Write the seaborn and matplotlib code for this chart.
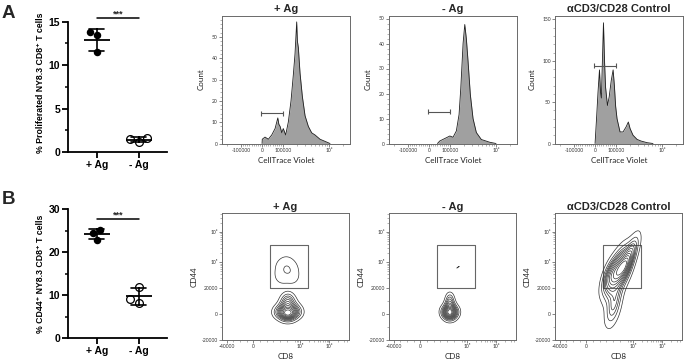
import numpy as np
import pandas as pd
import matplotlib
matplotlib.use('Agg')
import matplotlib.pyplot as plt
import seaborn as sns

sns.set_theme(style='ticks')
plt.rcParams['font.family'] = ['Liberation Sans', 'DejaVu Sans']
FLOW_FONT = ['Lato', 'DejaVu Sans']

# ---------------- data: dot plots ----------------
groups = ['+ Ag', '- Ag']
prolif_plus = [13.85, 13.46, 11.46]
prolif_minus = [1.15, 1.61, 1.54]
cd44_plus = [25.3, 24.4, 22.9]
cd44_minus = [12.0, 8.1, 9.1]
sig_label = '***'
sig_y = [15.4, 27.7]

# ---------------- data: CellTrace Violet histograms ----------------
hist_titles = ['+ Ag', '- Ag', 'αCD3/CD28 Control']
ctv_plus = [0, 1000, 14000, 30000, 46000, 62000, 75000, 80000, 86000, 94000, 101000,
            114000, 130000, 149000, 167000, 182000, 198000, 205000, 215000, 234000,
            263000, 301000, 355000, 420000, 496000, 637000, 819000, 1050000]
count_plus = [0, 2, 3, 2, 4, 7, 12, 9, 8, 5, 7, 4, 10, 20, 32, 42, 57, 48, 45, 33,
              22, 13, 8, 5, 4, 2, 1, 0]
ctv_minus = [40000, 51000, 75000, 99000, 116000, 137000, 157000, 171000, 192000,
             209000, 226000, 246000, 276000, 316000, 373000, 479000, 730000, 1000000]
count_minus = [0, 1, 2, 3, 2.5, 5, 11.6, 22, 40, 47.6, 42, 33, 19.6, 10, 4.4, 1.6,
               0.5, 0]
ctv_ctrl = [0, 7000, 14000, 21000, 26000, 30000, 35000, 40000, 45000, 50000, 59000,
            67000, 77000, 86000, 92000, 98000, 105000, 122000, 142000, 165000,
            185000, 202000, 234000, 286000, 349000, 472000, 637000]
count_ctrl = [0, 30, 62, 89, 62, 55, 100, 146, 100, 68, 46, 56, 76, 89, 70, 45, 30,
              14, 14, 20, 26, 18, 10, 5, 3, 1, 0]
hist_gate_ctv = [-3000, 100000]
hist_gate_height = [14.2, 12.8, 94]
hist_ymax = [60, 51.2, 154.8]
hist_yticks = [[0, 10, 20, 30, 40, 50], [0, 10, 20, 30, 40, 50], [0, 50, 100, 150]]

# ---------------- data: CD8 vs CD44 contour plots ----------------
plus_cd8 = [51900, 51900, 45900, 57800, 51900, 51900, 40000, 72700, 45900, 57800,
            45900, 57800, 35600, 91200, 48900, 56300, 43000, 67300, 51900, 47400,
            56300, 51900]
plus_cd44 = [0, 0, 0, 0, 1500, -1500, 800, 800, 2300, 2300,
             -1500, -1500, 1500, 1500, 5400, 5400, 4600, 4600, 8500, 10000,
             10000, 13100]
plus_gate_cd8 = [43000, 57800, 50400, 50400, 44400, 56300]
plus_gate_cd44 = [35900, 35900, 83300, 48800, 66300, 61300]
minus_cd8 = [44400, 44400, 38500, 50400, 44400, 44400, 34100, 54800, 40000, 48900,
             40000, 48900, 41500, 47400, 44400, 44400]
minus_cd44 = [800, 800, 800, 800, 2300, -800, 1500, 1500, 3100, 3100,
              -800, -800, 6200, 6200, 9200, 12300]
minus_gate_cd8 = [55600, 57800, 56700]
minus_gate_cd44 = [65700, 71000, 69400]
ctrl_cd8 = [56300, 59300, 53300, 67300, 50400, 78400, 56300, 47400, 91200, 35600,
            32600, 38500, 41500, 44400, 61400, 51900, 44400, 106700, 38500, 41500,
            38500, 43000, 45900, 35600, 31100, 53300]
ctrl_cd44 = [61300, 77300, 48800, 90100, 41800, 142900, 113500, 66300, 226000, 35900,
             27200, 48800, 24600, 35900, 41800, 142900, 90100, 307000, 16900, 9200,
             3800, 0, 13800, 21500, 35900, 77300]
gate_cd8 = [25500, 190000]
gate_cd44 = [20000, 367000]

# ---------------- layout helpers ----------------
W, H = 685, 363
fig = plt.figure(figsize=(W / 100, H / 100), dpi=100)


def rect(l, t, w, h):
    return [l / W, 1 - (t + h) / H, w / W, h / H]


def dot_panel(ax, plus, minus, ymax, majors, minors, ylabel, sig, ylab_y):
    df = pd.DataFrame({'group': [groups[0]] * len(plus) + [groups[1]] * len(minus),
                       'value': plus + minus})
    sns.swarmplot(data=df[df.group == groups[0]], x='group', y='value', order=groups,
                  color='black', size=5.4, ax=ax, zorder=3)
    sns.swarmplot(data=df[df.group == groups[1]], x='group', y='value', order=groups,
                  color='white', edgecolor='black', linewidth=0.9, size=5.6, ax=ax,
                  zorder=3)
    sns.pointplot(data=df, x='group', y='value', order=groups, estimator='mean',
                  errorbar='sd', color='black', markers='_', markersize=19,
                  markeredgewidth=1.3, linestyle='none', capsize=0.36,
                  err_kws={'linewidth': 1.2}, ax=ax, zorder=5)
    ax.set_xlim(-0.69, 1.68)
    ax.set_ylim(0, ymax)
    ax.set_yticks(majors)
    ax.set_yticks(minors, minor=True)
    sns.despine(ax=ax)
    for s in ['left', 'bottom']:
        ax.spines[s].set_linewidth(1.3)
        ax.spines[s].set_color('black')
    ax.tick_params(axis='both', which='major', length=4, width=1.3, color='black',
                   labelsize=7.5, pad=1.5, labelcolor='black')
    ax.tick_params(axis='y', which='minor', length=2.5, width=1.1, color='black')
    ax.set_xlabel('')
    ax.set_ylabel(ylabel, fontsize=6.3, fontweight='bold', color='black')
    ax.yaxis.set_label_coords(-0.232, ylab_y)
    for lab in ax.get_xticklabels() + ax.get_yticklabels():
        lab.set_fontweight('bold')
    ax.plot([0, 1], [sig, sig], color='black', lw=1.1, clip_on=False)
    ax.text(0.5, sig, sig_label, ha='center', va='bottom', fontsize=6.5,
            fontweight='bold', clip_on=False)


def flow_style(ax):
    for s in ax.spines.values():
        s.set_visible(True)
        s.set_color('#6a6a6a')
        s.set_linewidth(0.7)
    ax.tick_params(which='major', length=2, width=0.5, color='#555', labelsize=3.6,
                   labelcolor='#333', pad=1)
    ax.tick_params(which='minor', length=1.2, width=0.4, color='#777')
    for lab in ax.get_xticklabels() + ax.get_yticklabels():
        lab.set_fontfamily(FLOW_FONT)


def hist_panel(ax, x, c, ymax, yt, gate_h, title):
    ax.set_xscale('symlog', linthresh=1e5, linscale=0.411)
    ax.fill_between(x, c, color='#a0a0a0', linewidth=0)
    sns.lineplot(x=x, y=c, ax=ax, color='#1e1e1e', linewidth=0.6, estimator=None,
                 sort=False)
    ax.plot(hist_gate_ctv, [gate_h, gate_h], color='#555', lw=0.8)
    ax.vlines(hist_gate_ctv, gate_h - ymax * 0.02, gate_h + ymax * 0.02,
              color='#555', lw=0.8)
    ax.set_xlim(-2.6e5, 2.86e6)
    ax.set_ylim(0, ymax)
    ax.set_xticks([-1e5, 0, 1e5, 1e6], labels=['-100000', '0', '100000', '10⁶'])
    xminor = [v for v in np.arange(-9e4, 1e5, 1e4) if v != 0]
    xminor += [-2e5] + list(np.arange(2e5, 1e6, 1e5)) + [2e6]
    ax.set_xticks(xminor, minor=True)
    ax.set_yticks(yt, labels=[str(v) for v in yt])
    step = yt[1] - yt[0]
    ax.set_yticks([v for v in np.arange(0, ymax, step / 5) if v % step != 0],
                  minor=True)
    flow_style(ax)
    ax.set_xlabel('CellTrace Violet', fontsize=5.8, family=FLOW_FONT, color='#222',
                  labelpad=3)
    ax.set_ylabel('Count', fontsize=5.8, family=FLOW_FONT, color='#222', labelpad=5)
    ax.set_title(title, fontsize=8, fontweight='bold', pad=2.5)


def contour_panel(ax, cd8, cd44, g8, g44, gate_levels, bw, gbw, title):
    ax.set_xscale('symlog', linthresh=6e4, linscale=1.215)
    ax.set_yscale('symlog', linthresh=2.6e4, linscale=1.014)
    xl, yl = (-47000, 4.6e6), (-20000, 4.19e6)
    ax.set_xlim(*xl)
    ax.set_ylim(*yl)
    tx = ax.xaxis.get_transform()
    ty = ax.yaxis.get_transform()

    def T(tr, v):
        return tr.transform(np.asarray(v, float).reshape(-1, 1)).ravel()

    ov = ax.inset_axes([0, 0, 1, 1])
    ov.patch.set_alpha(0)
    sns.kdeplot(x=T(tx, cd8), y=T(ty, cd44), ax=ov, levels=12, thresh=0.05,
                color='#333', linewidths=0.5, bw_adjust=bw)
    if g8:
        sns.kdeplot(x=T(tx, g8), y=T(ty, g44), ax=ov, levels=gate_levels,
                    color='#333', linewidths=0.5, bw_adjust=gbw)
    ov.set_xlim(*T(tx, xl))
    ov.set_ylim(*T(ty, yl))
    ov.set_xticks([])
    ov.set_yticks([])
    ov.set_xlabel('')
    ov.set_ylabel('')
    ov.set_axis_off()
    gx = [gate_cd8[0], gate_cd8[1], gate_cd8[1], gate_cd8[0], gate_cd8[0]]
    gy = [gate_cd44[0], gate_cd44[0], gate_cd44[1], gate_cd44[1], gate_cd44[0]]
    ax.plot(gx, gy, color='#666', lw=0.8)
    ax.set_xticks([-4e4, 0, 1e5, 1e6], labels=['-40000', '0', '10⁵', '10⁶'])
    ax.set_xticks([v for v in np.arange(-3e4, 6e4, 1e4) if v != 0]
                  + [7e4, 8e4, 9e4] + list(np.arange(2e5, 1e6, 1e5))
                  + [2e6, 3e6, 4e6], minor=True)
    ax.set_yticks([-2e4, 0, 2e4, 1e5, 1e6],
                  labels=['-20000', '0', '20000', '10⁵', '10⁶'])
    ax.set_yticks([-1e4, 1e4] + list(np.arange(3e4, 1e5, 1e4))
                  + list(np.arange(2e5, 1e6, 1e5)) + [2e6, 3e6, 4e6], minor=True)
    flow_style(ax)
    ax.set_xlabel('CD8', fontsize=5.8, family=FLOW_FONT, color='#222', labelpad=3)
    ax.set_ylabel('CD44', fontsize=5.8, family=FLOW_FONT, color='#222', labelpad=3)
    ax.set_title(title, fontsize=8, fontweight='bold', pad=2.5)


# ---------------- panel A ----------------
axA = fig.add_axes(rect(68, 21.7, 99, 130.3))
dot_panel(axA, prolif_plus, prolif_minus, 15, [0, 5, 10, 15], [2.5, 7.5, 12.5],
          '% Proliferated NY8.3 CD8⁺ T cells', sig_y[0], 0.533)

cols = [222, 389, 555]
hist_x = [ctv_plus, ctv_minus, ctv_ctrl]
hist_c = [count_plus, count_minus, count_ctrl]
for i in range(3):
    ax = fig.add_axes(rect(cols[i], 15.5, 128, 128))
    hist_panel(ax, hist_x[i], hist_c[i], hist_ymax[i], hist_yticks[i],
               hist_gate_height[i], hist_titles[i])

# ---------------- panel B ----------------
axB = fig.add_axes(rect(68, 209.3, 99, 129))
dot_panel(axB, cd44_plus, cd44_minus, 30, [0, 10, 20, 30], [5, 15, 25],
          '% CD44⁺ NY8.3 CD8⁺ T cells', sig_y[1], 0.5)

cont_sets = [(plus_cd8, plus_cd44, plus_gate_cd8, plus_gate_cd44, [0.08, 0.85], 1.3, 1.4),
             (minus_cd8, minus_cd44, minus_gate_cd8, minus_gate_cd44, [0.45], 1.3, 1.2),
             (ctrl_cd8, ctrl_cd44, [], [], None, 1.15, 1.0)]
for i in range(3):
    ax = fig.add_axes(rect(cols[i], 213.3, 127, 126.7))
    c8, c44, g8, g44, gl, bw, gbw = cont_sets[i]
    contour_panel(ax, c8, c44, g8, g44, gl, bw, gbw, hist_titles[i])

fig.text(8.5 / W, 1 - 14 / H, 'A', ha='center', va='center', fontsize=13.5,
         fontweight='bold')
fig.text(8.5 / W, 1 - 200 / H, 'B', ha='center', va='center', fontsize=13.5,
         fontweight='bold')

fig.savefig('out.png', dpi=100, facecolor='white')
